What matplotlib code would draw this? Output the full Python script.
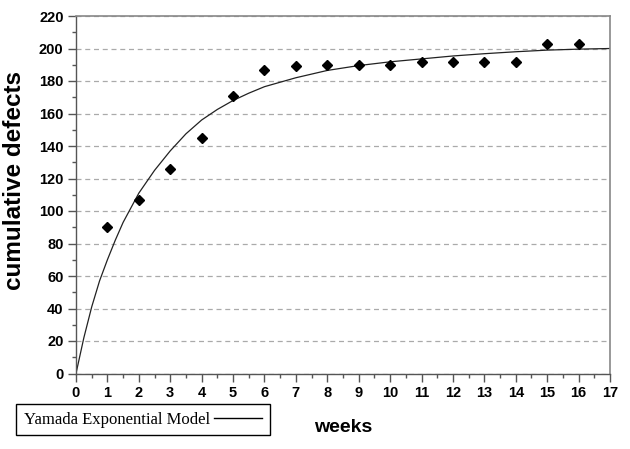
import matplotlib
matplotlib.use("Agg")
import matplotlib.pyplot as plt
from matplotlib.ticker import MultipleLocator
from matplotlib.lines import Line2D

# Observed cumulative defects per week
weeks = [1, 2, 3, 4, 5, 6, 7, 8, 9, 10, 11, 12, 13, 14, 15, 16]
defects = [90, 107, 126, 145, 171, 187, 189, 190, 190, 190, 192, 192, 192, 192, 203, 203]

# Yamada exponential model curve
model_t = [0, 0.25, 0.5, 0.75, 1, 1.25, 1.5, 1.75, 2, 2.5, 3, 3.5, 4, 4.5, 5, 5.5, 6, 7, 8,
           9, 10, 11, 12, 13, 14, 15, 16, 17]
model_v = [0, 22, 41, 57, 70, 82, 93, 102, 111, 125, 137, 147.5, 156, 162.5, 168, 172.5, 176.5,
           182, 186.5, 189.5, 191.8, 193.6, 195.4, 196.8, 198, 199, 199.6, 200]

x_ticks = list(range(0, 18))
y_ticks = list(range(0, 221, 20))

fig = plt.figure(figsize=(6.3, 4.49), dpi=100)
ax = fig.add_axes([76/630, 75.5/449, 534/630, 357.5/449])

ax.plot(model_t, model_v, color="#222222", linewidth=0.9, zorder=2)
ax.plot(weeks, defects, linestyle="none", marker="D", markersize=5.3,
        color="black", zorder=3)

ax.set_xlim(0, 17)
ax.set_ylim(0, 220)
ax.set_xticks(x_ticks)
ax.set_yticks(y_ticks)
ax.xaxis.set_minor_locator(MultipleLocator(0.5))
ax.yaxis.set_minor_locator(MultipleLocator(10))

ax.tick_params(axis="both", which="major", direction="out", length=6, width=1,
               color="#555555", labelsize=10.5)
ax.tick_params(axis="both", which="minor", direction="out", length=3, width=1,
               color="#555555")
ax.tick_params(axis="x", which="major", pad=3)
ax.tick_params(axis="y", which="major", pad=3)
for lab in ax.get_xticklabels() + ax.get_yticklabels():
    lab.set_fontfamily("Liberation Sans")
    lab.set_fontweight("bold")

ax.yaxis.grid(True, linestyle=(0, (4, 3)), color="#aaaaaa", linewidth=0.9)
ax.set_axisbelow(True)

for side in ("left", "bottom"):
    ax.spines[side].set_color("#555555")
    ax.spines[side].set_linewidth(1)
for side in ("top", "right"):
    ax.spines[side].set_color("#888888")
    ax.spines[side].set_linewidth(1.2)

ax.set_xlabel("weeks", fontsize=14, fontweight="bold", family="Liberation Sans")
ax.xaxis.set_label_coords(0.5, -0.128)
ax.set_ylabel("cumulative defects", fontsize=17.5, fontweight="bold",
              family="Liberation Sans")
ax.yaxis.set_label_coords(-0.094, 0.541)

handle = Line2D([], [], color="black", linewidth=1.0)
leg = fig.legend([handle], ["Yamada Exponential Model"], loc="lower left",
                 bbox_to_anchor=(16/630, 14/449), borderaxespad=0,
                 markerfirst=False, handlelength=2.9, handletextpad=0.25,
                 borderpad=0.45, fancybox=False, framealpha=1,
                 prop={"family": "Liberation Serif", "size": 12})
leg.get_frame().set_edgecolor("black")
leg.get_frame().set_linewidth(1.0)

fig.savefig("out.png", dpi=100)
